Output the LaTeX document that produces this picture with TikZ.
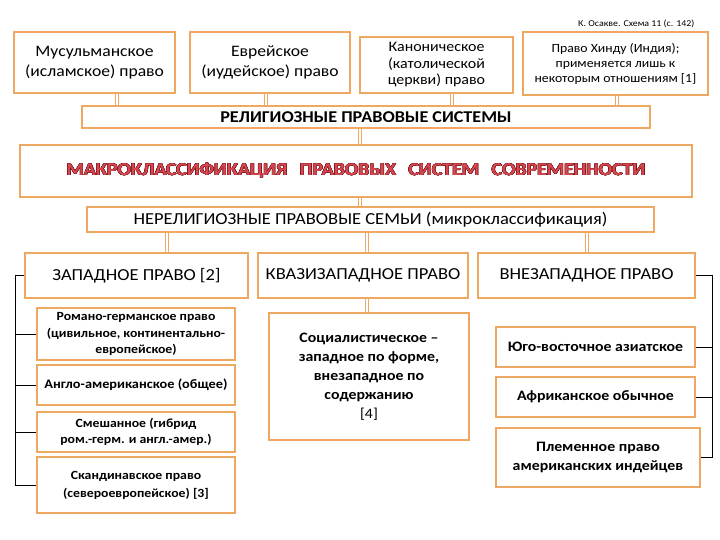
\documentclass[tikz,border=0pt]{standalone}
\usepackage{fontspec}
\setmainfont{Carlito}[FakeStretch=1.1]
\usepackage[copies]{contour}
\usetikzlibrary{math}
\definecolor{borange}{RGB}{238,168,98}
\definecolor{mred}{RGB}{214,72,78}
\definecolor{mdark}{RGB}{118,20,32}
\contourlength{0.4pt}

\tikzset{
 box/.style={draw=borange, line width=2pt, fill=white, align=center, inner sep=1pt, text=black},
 link/.style={draw=borange, double=white, double distance=2pt, line width=0.8pt},
 brace/.style={draw=black, line width=0.8pt},
 head/.style={font=\fontsize{16.8}{19}\selectfont},
}

\begin{document}
\begin{tikzpicture}[x=1pt,y=-1pt]
\useasboundingbox (0,0) rectangle (720,540);

\tikzmath{
\wt = 16;  % top row text
\ws = 12.5;  % western bold text
\wn = 14.4;  % other bold text
}

\node[font=\fontsize{9}{10}\selectfont, anchor=east] (src) at (698,24) {К. Осакве. Схема 11 (с. 142)};

%religious systems
\node[box, minimum width=161pt, minimum height=61pt, font=\fontsize{\wt}{19.5}\selectfont] (mus) at (94.5,62.5) {Мусульманское\\(исламское) право};
\node[box, minimum width=160pt, minimum height=61pt, font=\fontsize{\wt}{19.5}\selectfont] (evr) at (270,62.5) {Еврейское\\(иудейское) право};
\node[box, minimum width=153pt, minimum height=56pt, font=\fontsize{14.5}{16.5}\selectfont] (kan) at (436.5,65) {Каноническое\\(католической\\церкви) право};
\node[box, minimum width=185pt, minimum height=63pt, font=\fontsize{12.5}{15}\selectfont] (hin) at (615.5,63.5) {Право Хинду (Индия);\\применяется лишь к\\некоторым отношениям [1]};

\node[box, minimum width=568pt, minimum height=22pt, font=\fontsize{16.5}{18}\selectfont\bfseries] (rel) at (366,117) {РЕЛИГИОЗНЫЕ ПРАВОВЫЕ СИСТЕМЫ};

\draw[link] ([xshift=22.5pt]mus.south) -- ([xshift=22.5pt]mus.south |- rel.north);
\draw[link] ([xshift=-4pt]evr.south) -- ([xshift=-4pt]evr.south |- rel.north);
\draw[link] ([xshift=15.5pt]kan.south) -- ([xshift=15.5pt]kan.south |- rel.north);
\draw[link] ([xshift=1.5pt]hin.south) -- ([xshift=1.5pt]hin.south |- rel.north);

%macro
\node[box, minimum width=672pt, minimum height=52pt, text=mred, font=\fontsize{18}{21}\selectfont\bfseries] (mac) at (356,171)
 {\contour{mdark}{МАКРОКЛАССИФИКАЦИЯ}\hspace{8pt} \contour{mdark}{ПРАВОВЫХ}\hspace{8pt} \contour{mdark}{СИСТЕМ}\hspace{8pt} \contour{mdark}{СОВРЕМЕННОСТИ}};
\draw[link] ([xshift=-6pt]rel.south) -- ([xshift=-6pt]rel.south |- mac.north);

\node[box, head, minimum width=567pt, minimum height=25pt] (ner) at (370.5,219.5) {НЕРЕЛИГИОЗНЫЕ ПРАВОВЫЕ СЕМЬИ (микроклассификация)};
\draw[link] ([xshift=4pt]mac.south) -- ([xshift=4pt]mac.south |- ner.north);

%families
\node[box, head, minimum width=223pt, minimum height=45pt] (zap) at (136.5,275.5) {ЗАПАДНОЕ ПРАВО [2]};
\node[box, head, minimum width=210pt, minimum height=45pt] (kva) at (363,275.5) {КВАЗИЗАПАДНОЕ ПРАВО};
\node[box, head, minimum width=217pt, minimum height=45pt] (vne) at (586.5,275.5) {ВНЕЗАПАДНОЕ ПРАВО};

\draw[link] ([xshift=30.5pt]zap.north |- ner.south) -- ([xshift=30.5pt]zap.north);
\draw[link] ([xshift=4pt]kva.north |- ner.south) -- ([xshift=4pt]kva.north);
\draw[link] ([xshift=0.5pt]vne.north |- ner.south) -- ([xshift=0.5pt]vne.north);

%western
\node[box, minimum width=198pt, minimum height=52pt, font=\fontsize{\ws}{16.5}\selectfont\bfseries] (rom) at (136,334) {Романо-германское право\\(цивильное, континентально-\\европейское)};
\node[box, minimum width=198pt, minimum height=40pt, font=\fontsize{13}{16.5}\selectfont\bfseries] (ang) at (136,385) {Англо-американское (общее)};
\node[box, minimum width=198pt, minimum height=40pt, font=\fontsize{\ws}{16.5}\selectfont\bfseries] (sme) at (136,432) {Смешанное (гибрид\\ром.-герм. и англ.-амер.)};
\node[box, minimum width=198pt, minimum height=56pt, font=\fontsize{\ws}{18}\selectfont\bfseries] (ska) at (136,485) {Скандинавское право\\(североевропейское) [3]};

\draw[brace] (zap.west) -| (15,0 |- ska.west);
\foreach \b in {rom,ang,sme,ska}{
 \draw[brace] (\b.west) -- (\b.west -| 15,0);
}

%quasi-western
\node[box, minimum width=200pt, minimum height=127pt, font=\fontsize{\wn}{19}\selectfont\bfseries] (soc) at (369,376.5) {Социалистическое –\\западное по форме,\\внезападное по\\содержанию\\\mdseries [4]};
\draw[link] ([xshift=4pt]kva.south) -- ([xshift=4pt]kva.south |- soc.north);

%non-western
\node[box, minimum width=199pt, minimum height=40pt, font=\fontsize{\wn}{18}\selectfont\bfseries] (yug) at (595.5,347) {Юго-восточное азиатское};
\node[box, minimum width=199pt, minimum height=40pt, font=\fontsize{\wn}{18}\selectfont\bfseries] (afr) at (595.5,397) {Африканское обычное};
\node[box, minimum width=204pt, minimum height=59pt, font=\fontsize{\wn}{19}\selectfont\bfseries] (ple) at (598,457.5) {Племенное право\\американских индейцев};

\draw[brace] (vne.east) -| (712,0 |- ple.east) -- (ple.east);
\foreach \b in {yug,afr}{
 \draw[brace] (\b.east) -- (\b.east -| 712,0);
}

\end{tikzpicture}
\end{document}
